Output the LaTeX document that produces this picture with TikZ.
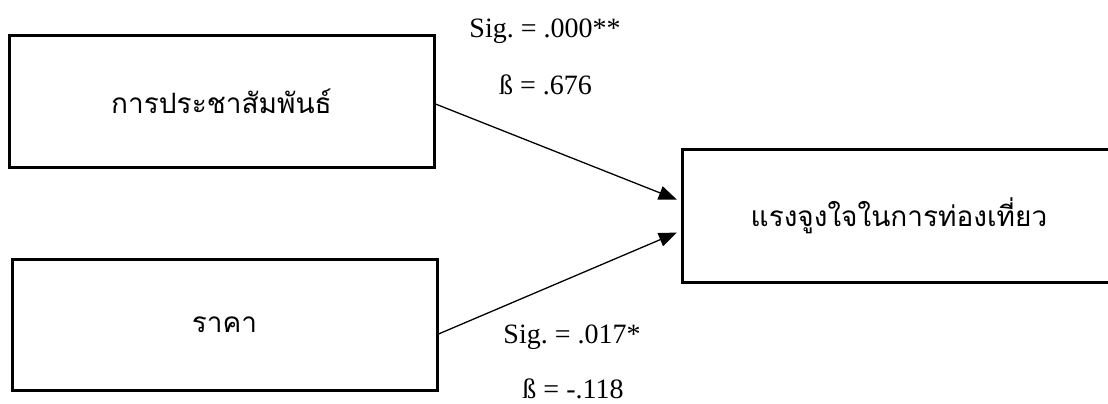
\documentclass[tikz,border=0pt]{standalone}
\usepackage{fontspec}
\setmainfont{Liberation Serif}
\newfontfamily\thaifont[Script=Thai]{Loma}
\usetikzlibrary{arrows.meta}
\frenchspacing
\begin{document}
\begin{tikzpicture}[x=0.5pt,y=-0.5pt,
  box/.style={draw=black,line width=1.5pt,rectangle,inner sep=0pt,font=\thaifont\fontsize{14}{17}\selectfont},
  lbl/.style={inner sep=0pt,anchor=base,font=\fontsize{14}{17}\selectfont},
  conn/.style={draw=black,line width=0.65pt,-{Triangle[length=9pt,width=7pt]},shorten >=2pt}]
\useasboundingbox (0,0) rectangle (1108,403);
\clip (0,0) rectangle (1108,403);
\node[box,minimum width=212.5pt,minimum height=66pt] (a) at (221.5,101) {การประชาสัมพันธ์};
\node[box,minimum width=212.5pt,minimum height=65.5pt] (b) at (224.5,324.5) {ราคา};
\node[box,minimum width=217pt,minimum height=66.5pt] (c) at (899,215.5) {แรงจูงใจในการท่องเที่ยว};
\draw[conn] ([yshift=-1.5pt]a.east) -- ([yshift=7.25pt]c.west);
\draw[conn] ([yshift=-4.75pt]b.east) -- ([yshift=-7.75pt]c.west);
\node[lbl] (s1) at (545,37) {Sig. = .000**};
\node[lbl] (b1) at (545.5,94) {ß = .676};
\node[lbl] (s2) at (572,343) {Sig. = .017*};
\node[lbl] (b2) at (573,398) {ß = -.118};
\end{tikzpicture}
\end{document}
